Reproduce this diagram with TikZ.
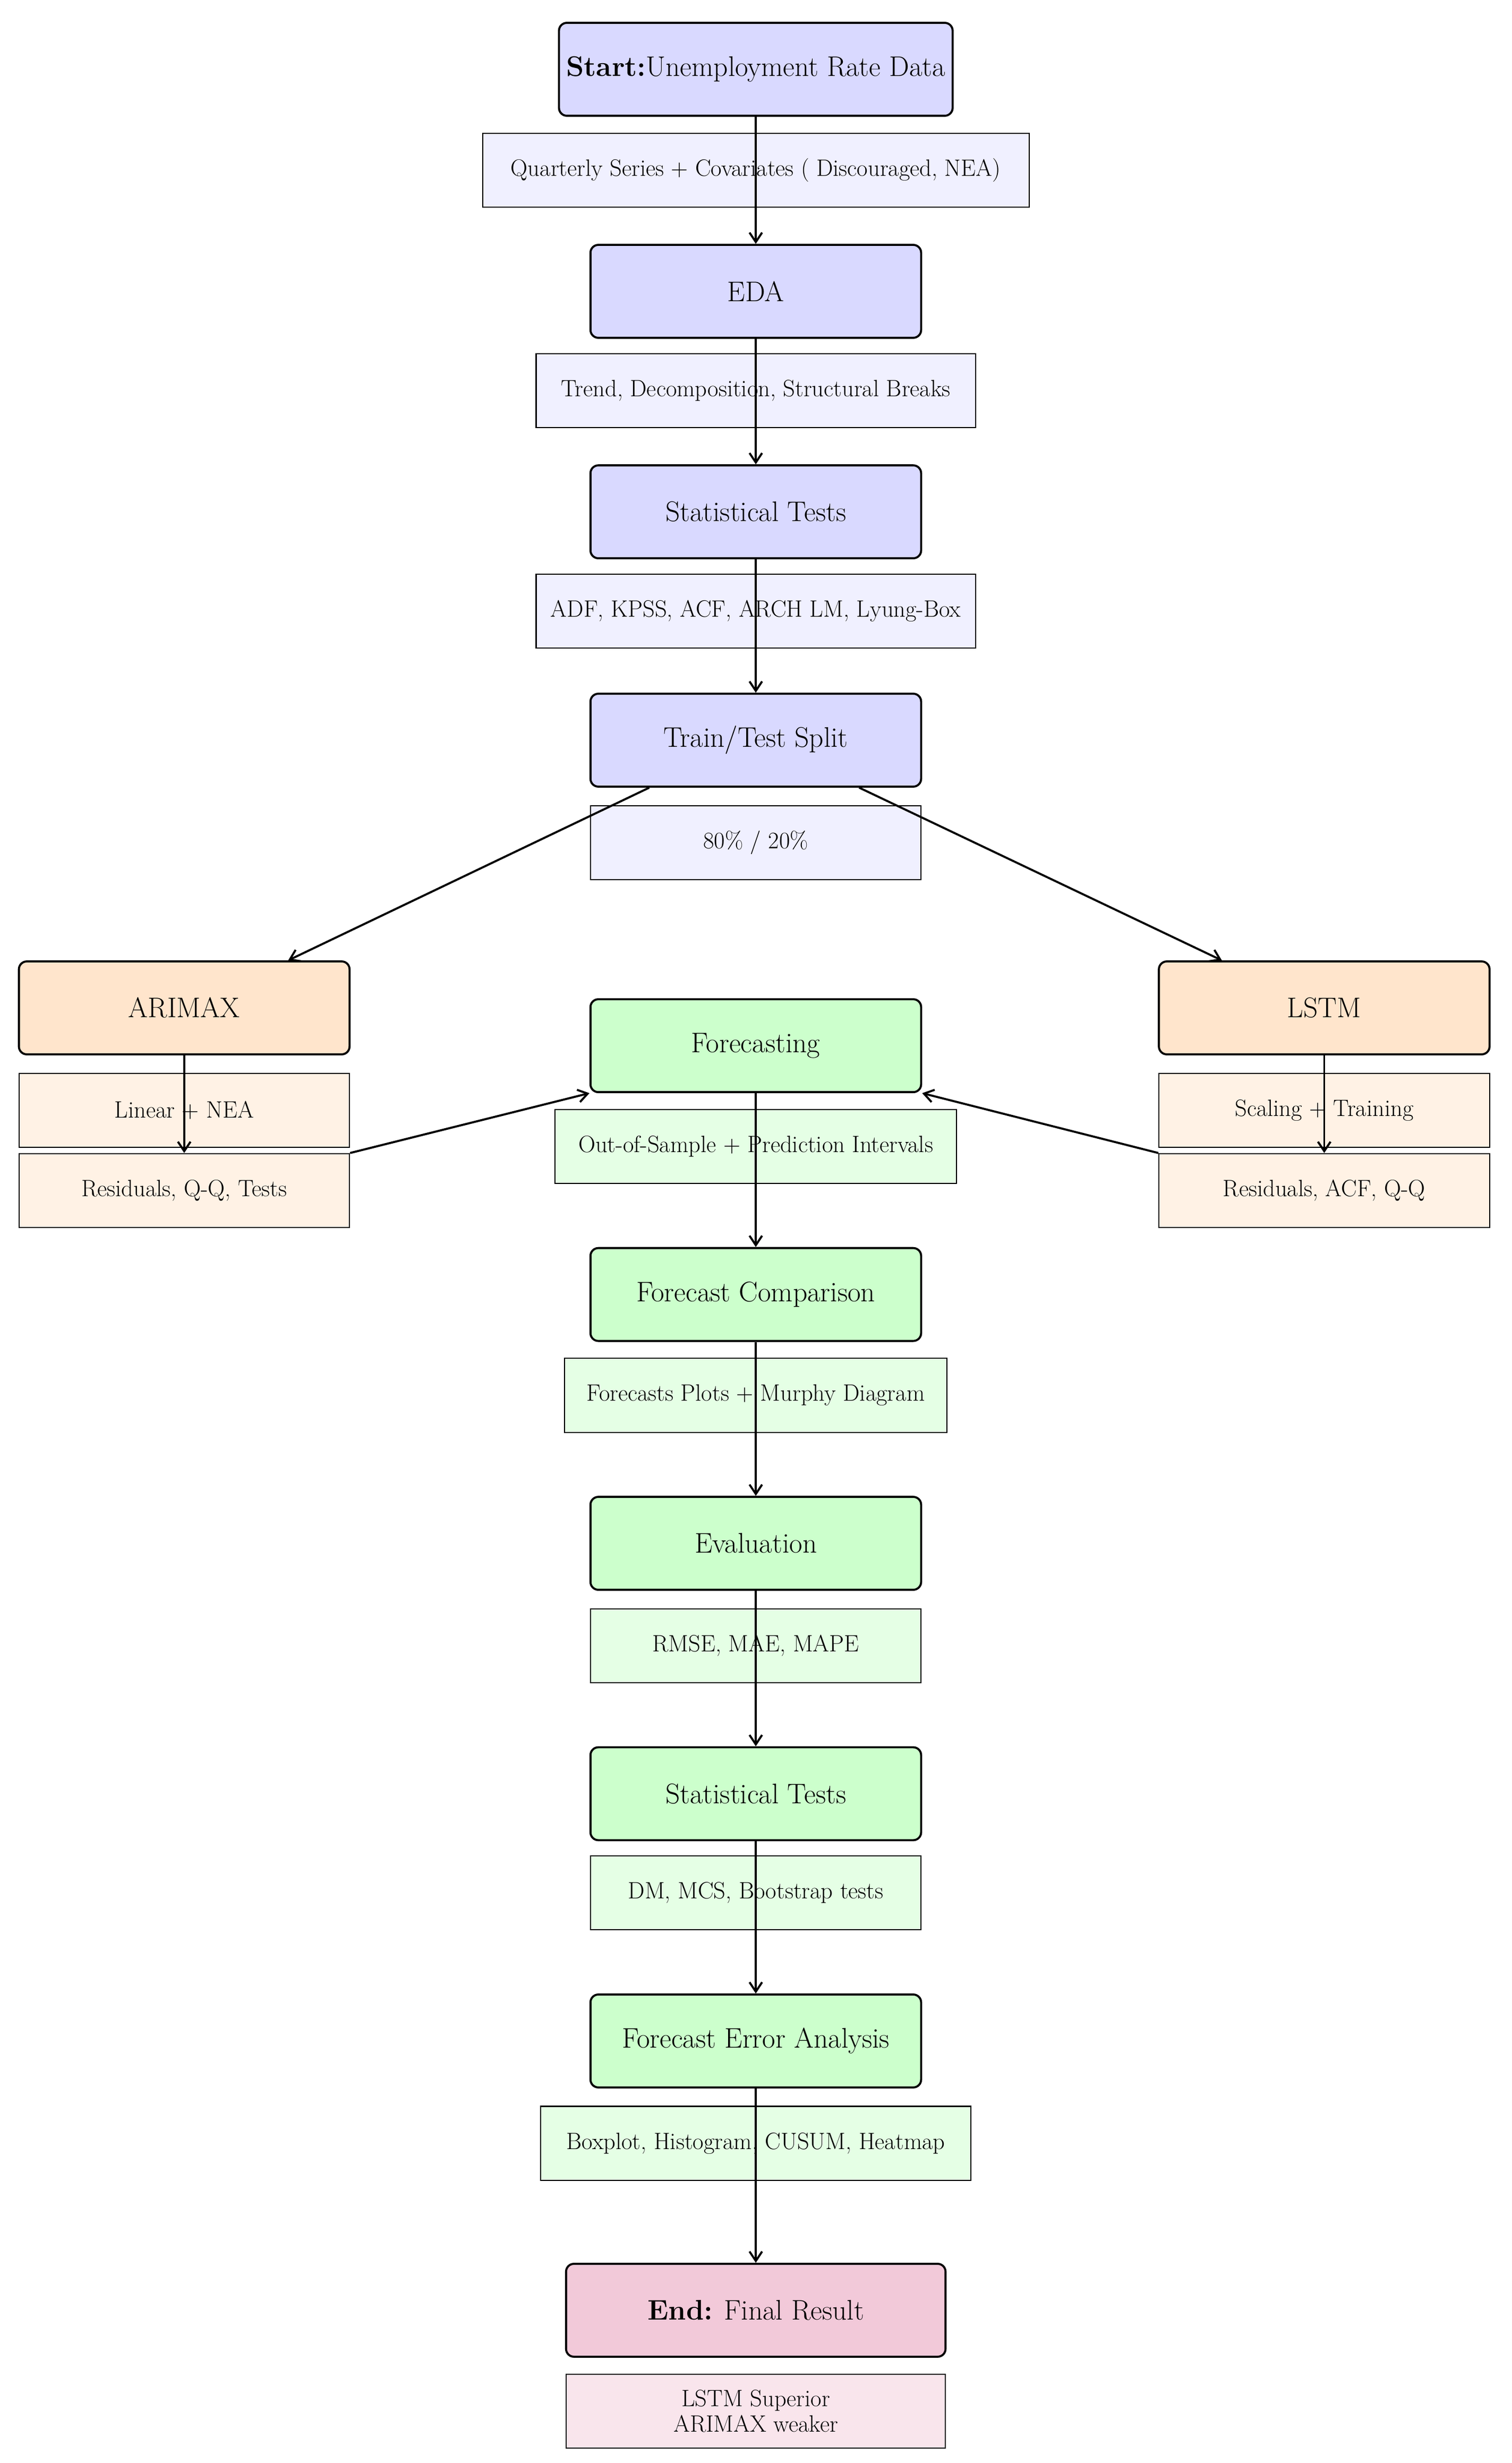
\documentclass[tikz,border=0pt]{standalone}
\usetikzlibrary{arrows.meta}
\definecolor{mblue}{HTML}{D9D9FF}\definecolor{sblue}{HTML}{F0F0FF}
\definecolor{morange}{HTML}{FFE5CC}\definecolor{sorange}{HTML}{FFF2E5}
\definecolor{mgreen}{HTML}{CCFFCC}\definecolor{sgreen}{HTML}{E5FFE5}
\definecolor{mpink}{HTML}{F2C9D9}\definecolor{spink}{HTML}{F9E5EC}
\begin{document}
\begin{tikzpicture}[x=1pt,y=-1pt,
 main/.style={draw,line width=1.3pt,rounded corners=5pt,minimum width=210pt,minimum height=59pt,font=\fontsize{18}{21}\selectfont,inner sep=2pt},
 sub/.style={draw,line width=0.7pt,minimum height=47pt,font=\fontsize{15}{16}\selectfont,align=center,inner sep=2pt},
 arr/.style={line width=1.3pt,-{Straight Barb[length=6pt,width=8pt]}}]
\useasboundingbox (0,0) rectangle (960,1564);
% sub boxes
\node[sub,fill=sblue,minimum width=347pt] (s1) at (480,108) {Quarterly Series + Covariates ( Discouraged, NEA)};
\node[sub,fill=sblue,minimum width=279pt] (s2) at (480,248) {Trend, Decomposition, Structural Breaks};
\node[sub,fill=sblue,minimum width=279pt] (s3) at (480,388) {ADF, KPSS, ACF, ARCH LM, Lyung-Box};
\node[sub,fill=sblue,minimum width=210pt] (s4) at (480,535) {80\% / 20\%};
\node[sub,fill=sorange,minimum width=210pt] (a1) at (117,705) {Linear + NEA};
\node[sub,fill=sorange,minimum width=210pt] (a2) at (117,756) {Residuals, Q-Q, Tests};
\node[sub,fill=sorange,minimum width=210pt] (l1) at (841,705) {Scaling + Training};
\node[sub,fill=sorange,minimum width=210pt] (l2) at (841,756) {Residuals, ACF, Q-Q};
\node[sub,fill=sgreen,minimum width=255pt] (f1) at (480,728) {Out-of-Sample + Prediction Intervals};
\node[sub,fill=sgreen,minimum width=243pt] (f2) at (480,886) {Forecasts Plots + Murphy Diagram};
\node[sub,fill=sgreen,minimum width=210pt] (f3) at (480,1045) {RMSE, MAE, MAPE};
\node[sub,fill=sgreen,minimum width=210pt] (f4) at (480,1202) {DM, MCS, Bootstrap tests};
\node[sub,fill=sgreen,minimum width=273pt] (f5) at (480,1361) {Boxplot, Histogram, CUSUM, Heatmap};
\node[sub,fill=spink,minimum width=241pt] (e1) at (480,1531) {LSTM Superior\\ARIMAX weaker};
% main nodes
\node[main,fill=mblue,minimum width=250pt] (start) at (480,44) {\textbf{Start:}Unemployment Rate Data};
\node[main,fill=mblue] (eda) at (480,185) {EDA};
\node[main,fill=mblue] (st) at (480,325) {Statistical Tests};
\node[main,fill=mblue] (split) at (480,470) {Train/Test Split};
\node[main,fill=morange] (arimax) at (117,640) {ARIMAX};
\node[main,fill=morange] (lstm) at (841,640) {LSTM};
\node[main,fill=mgreen] (fc) at (480,664) {Forecasting};
\node[main,fill=mgreen] (cmp) at (480,822) {Forecast Comparison};
\node[main,fill=mgreen] (ev) at (480,980) {Evaluation};
\node[main,fill=mgreen] (st2) at (480,1139) {Statistical Tests};
\node[main,fill=mgreen] (fea) at (480,1296) {Forecast Error Analysis};
\node[main,fill=mpink,minimum width=241pt] (end) at (480,1467) {\textbf{End:} Final Result};
% connectors
\draw[arr] (start) -- (eda);
\draw[arr] (eda) -- (st);
\draw[arr] (st) -- (split);
\draw[arr] ([xshift=38pt]split.south west) -- ([xshift=66pt]arimax.north);
\draw[arr] ([xshift=-40pt]split.south east) -- ([xshift=-65pt]lstm.north);
\draw[arr] (arimax) -- (a2.north);
\draw[arr] (lstm) -- (l2.north);
\draw[arr] (a2.north east) -- (fc.south west);
\draw[arr] (l2.north west) -- (fc.south east);
\draw[arr] (fc) -- (cmp);
\draw[arr] (cmp) -- (ev);
\draw[arr] (ev) -- (st2);
\draw[arr] (st2) -- (fea);
\draw[arr] (fea) -- (end);
\end{tikzpicture}
\end{document}
